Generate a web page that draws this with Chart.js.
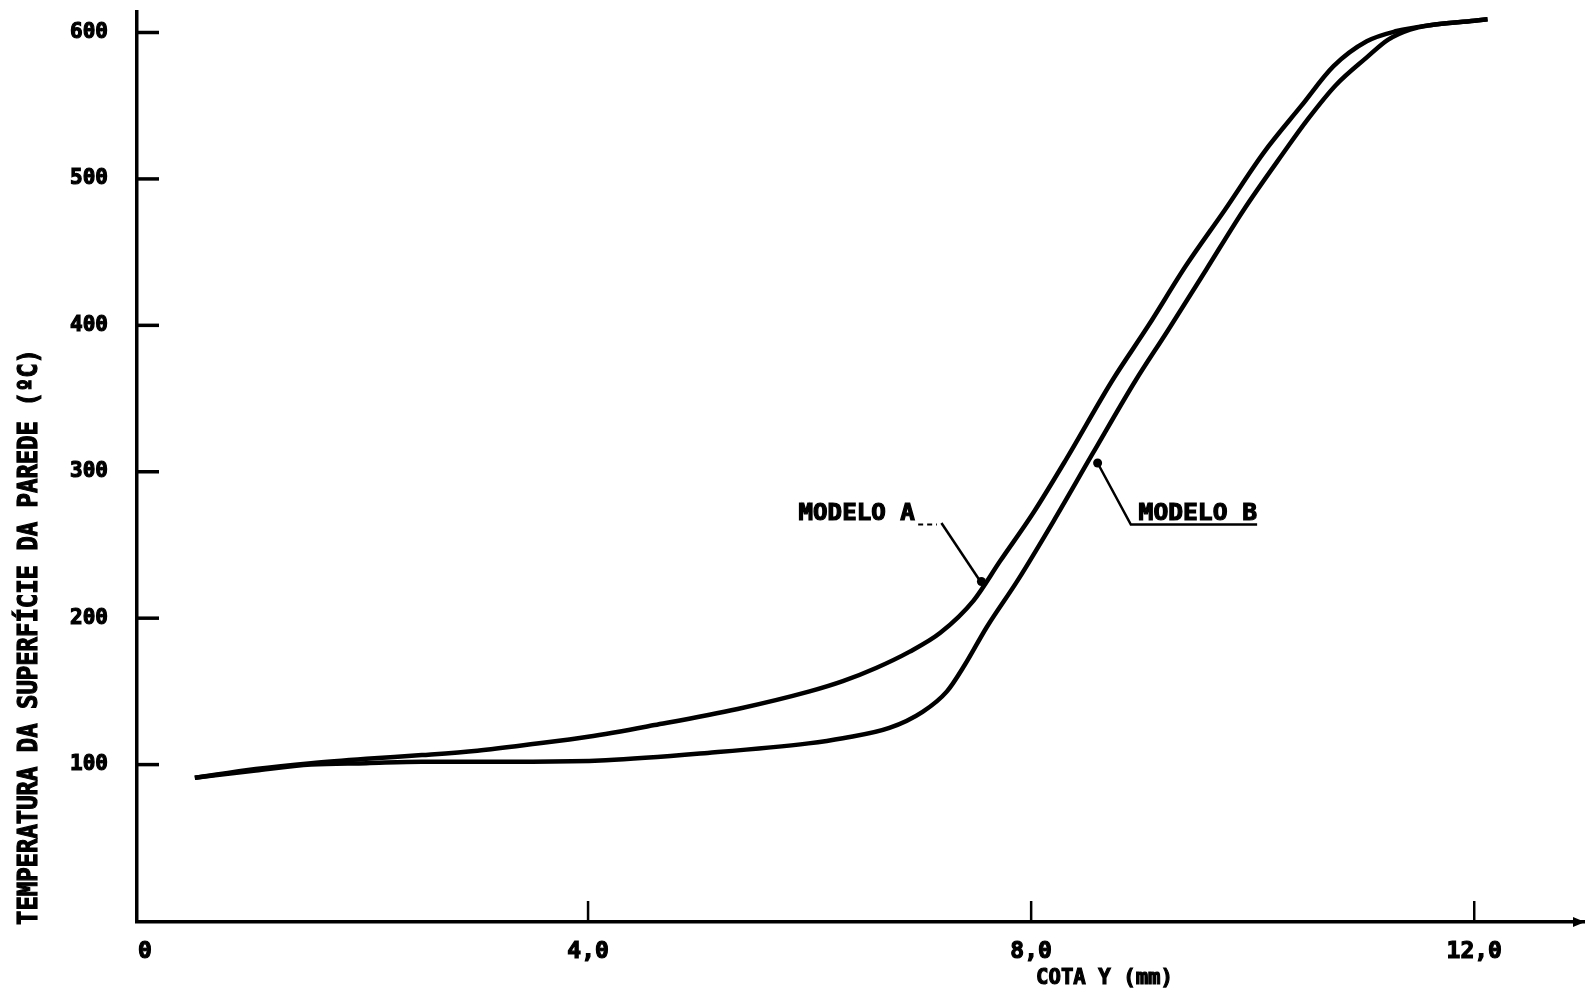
<!DOCTYPE html>
<html>
<head>
<meta charset="utf-8">
<script src="https://cdn.jsdelivr.net/npm/chart.js@4/dist/chart.umd.min.js"></script>
<style>
  html, body { margin: 0; padding: 0; background: #fff; }
  canvas { display: block; }
</style>
</head>
<body>
<canvas id="chart" width="1585" height="993"></canvas>
<script>
// Wall surface temperature vs. position Y, two models
const cotaA = [0.45, 1.0, 1.5, 2.0, 2.5, 3.0, 3.5, 4.0, 4.6, 5.35, 6.0, 6.3, 6.6, 6.9, 7.18, 7.48, 7.72, 8.02, 8.32, 8.73, 9.06, 9.40, 9.75, 10.10, 10.44, 10.73, 11.03, 11.30, 11.60, 12.00, 12.12];
const tempA = [91, 97, 101, 104, 106.5, 109.5, 114, 119, 127, 138, 150, 157, 166, 177, 190, 212, 239, 272, 309, 362, 400, 441, 479, 518, 550, 577, 594, 601, 605, 608, 609];

const cotaB = [0.45, 1.0, 1.5, 2.0, 2.5, 3.0, 3.5, 4.16, 5.08, 5.99, 6.30, 6.72, 7.02, 7.24, 7.40, 7.60, 7.88, 8.20, 8.56, 8.94, 9.23, 9.58, 9.92, 10.27, 10.50, 10.75, 11.03, 11.22, 11.42, 11.60, 12.00, 12.12];
const tempB = [91, 96, 100, 101, 102, 102, 102, 103, 108, 114.5, 118, 125, 136, 150, 168, 194, 226, 266, 313, 362, 396, 438, 479, 517, 541, 564, 583, 595, 602, 605, 608, 609];

const xTickValues = [0, 4, 8, 12];
const xTickLabels = ['0', '4,0', '8,0', '12,0'];
const yTickValues = [100, 200, 300, 400, 500, 600];
const yTickLabels = ['100', '200', '300', '400', '500', '600'];

const seriesNames = ['MODELO A', 'MODELO B'];
const xTitle = 'COTA Y (mm)';
const yTitle = 'TEMPERATURA DA SUPERFÍCIE DA PAREDE (ºC)';

const FONT = "'DejaVu Sans Mono', 'Liberation Mono', monospace";
const INK = '#000';

function toPoints(xs, ys) {
  return xs.map((x, i) => ({ x: x, y: ys[i] }));
}

// draws heavy text squeezed/stretched to a given width
function fitText(ctx, text, x, y, width, align) {
  const w = ctx.measureText(text).width;
  const k = width / w;
  ctx.save();
  ctx.translate(x, y);
  ctx.scale(k, 1);
  ctx.textAlign = align || 'left';
  ctx.lineWidth = 1.2;
  ctx.strokeText(text, 0, 0);
  ctx.fillText(text, 0, 0);
  ctx.restore();
}

const decorations = {
  id: 'decorations',
  afterDraw(chart) {
    const ctx = chart.ctx;
    const xs = chart.scales.x;
    const ys = chart.scales.y;
    const area = chart.chartArea;
    ctx.save();
    ctx.strokeStyle = INK;
    ctx.fillStyle = INK;
    ctx.lineCap = 'butt';

    // inward tick marks on the y axis
    ctx.lineWidth = 3.5;
    yTickValues.forEach(v => {
      const py = ys.getPixelForValue(v);
      ctx.beginPath();
      ctx.moveTo(area.left, py);
      ctx.lineTo(area.left + 22, py);
      ctx.stroke();
    });
    // inward tick marks on the x axis
    ctx.lineWidth = 2.5;
    xTickValues.forEach(v => {
      if (v === 0) return;
      const px = xs.getPixelForValue(v);
      ctx.beginPath();
      ctx.moveTo(px, area.bottom);
      ctx.lineTo(px, area.bottom - 21);
      ctx.stroke();
    });

    // arrow tip at the end of the x axis
    ctx.beginPath();
    ctx.moveTo(area.right, area.bottom);
    ctx.lineTo(area.right - 12, area.bottom - 5);
    ctx.lineTo(area.right - 12, area.bottom + 5);
    ctx.closePath();
    ctx.fill();

    // axis titles
    ctx.textBaseline = 'middle';
    ctx.font = 'bold 27px ' + FONT;
    ctx.save();
    ctx.translate(30, 637);
    ctx.rotate(-Math.PI / 2);
    fitText(ctx, yTitle, 0, 0, 576, 'center');
    ctx.restore();

    ctx.font = 'bold 22px ' + FONT;
    fitText(ctx, xTitle, 1036, 978, 137, 'left');

    // series labels with leader lines
    const P = (x, y) => [xs.getPixelForValue(x), ys.getPixelForValue(y)];
    ctx.font = 'bold 23px ' + FONT;

    // MODELO A
    let [tx0, ty] = P(5.90, 271);
    let [tx1] = P(6.95, 271);
    fitText(ctx, seriesNames[0], tx0, ty, tx1 - tx0, 'left');
    ctx.lineWidth = 2;
    ctx.setLineDash([5, 4]);
    let a0 = P(6.98, 264), a1 = P(7.15, 264);
    ctx.beginPath(); ctx.moveTo(a0[0], a0[1]); ctx.lineTo(a1[0], a1[1]); ctx.stroke();
    ctx.setLineDash([]);
    ctx.lineWidth = 2.5;
    let l0 = P(7.19, 265), l1 = P(7.56, 223);
    ctx.beginPath(); ctx.moveTo(l0[0], l0[1]); ctx.lineTo(l1[0], l1[1]); ctx.stroke();
    ctx.beginPath(); ctx.arc(l1[0] - 1, l1[1] - 3, 4.5, 0, Math.PI * 2); ctx.fill();

    // MODELO B
    [tx0, ty] = P(8.97, 271);
    [tx1] = P(10.04, 271);
    fitText(ctx, seriesNames[1], tx0, ty, tx1 - tx0, 'left');
    let u0 = P(8.90, 264), u1 = P(10.04, 264);
    ctx.lineWidth = 2.5;
    ctx.beginPath(); ctx.moveTo(u1[0], u1[1]); ctx.lineTo(u0[0], u0[1]);
    let m1 = P(8.60, 306);
    ctx.lineTo(m1[0], m1[1]); ctx.stroke();
    ctx.beginPath(); ctx.arc(m1[0], m1[1], 4.5, 0, Math.PI * 2); ctx.fill();

    ctx.restore();
  }
};

new Chart(document.getElementById('chart'), {
  type: 'line',
  data: {
    datasets: [
      {
        label: seriesNames[0],
        data: toPoints(cotaA, tempA),
        borderColor: INK,
        borderWidth: 4.5,
        pointRadius: 0,
        cubicInterpolationMode: 'monotone',
        fill: false
      },
      {
        label: seriesNames[1],
        data: toPoints(cotaB, tempB),
        borderColor: INK,
        borderWidth: 4.5,
        pointRadius: 0,
        cubicInterpolationMode: 'monotone',
        fill: false
      }
    ]
  },
  options: {
    responsive: false,
    animation: false,
    devicePixelRatio: 1,
    layout: { padding: { top: 12, right: 0, bottom: 0, left: 0 } },
    plugins: {
      legend: { display: false },
      tooltip: { enabled: false },
      title: { display: false }
    },
    scales: {
      x: {
        type: 'linear',
        min: -0.072,
        max: 13.0,
        grid: { display: false, drawTicks: false },
        border: { display: true, color: INK, width: 3.5 },
        afterBuildTicks: s => { s.ticks = xTickValues.map(v => ({ value: v })); },
        afterFit: s => { s.height = 71; s.paddingLeft = 0; s.paddingRight = 0; },
        ticks: {
          color: INK,
          padding: 16,
          maxRotation: 0,
          autoSkip: false,
          textStrokeColor: INK,
          textStrokeWidth: 1.2,
          font: { family: FONT, size: 23, weight: 'bold' },
          callback: v => xTickLabels[xTickValues.indexOf(v)]
        }
      },
      y: {
        type: 'linear',
        min: -7.5,
        max: 614,
        grid: { display: false, drawTicks: false },
        border: { display: true, color: INK, width: 3.5 },
        afterBuildTicks: s => { s.ticks = yTickValues.map(v => ({ value: v })); },
        afterFit: s => { s.width = 137; s.paddingTop = 0; s.paddingBottom = 0; },
        ticks: {
          color: INK,
          padding: 29,
          autoSkip: false,
          textStrokeColor: INK,
          textStrokeWidth: 1.2,
          font: { family: FONT, size: 21, weight: 'bold' },
          callback: v => yTickLabels[yTickValues.indexOf(v)]
        }
      }
    }
  },
  plugins: [decorations]
});
</script>
</body>
</html>
